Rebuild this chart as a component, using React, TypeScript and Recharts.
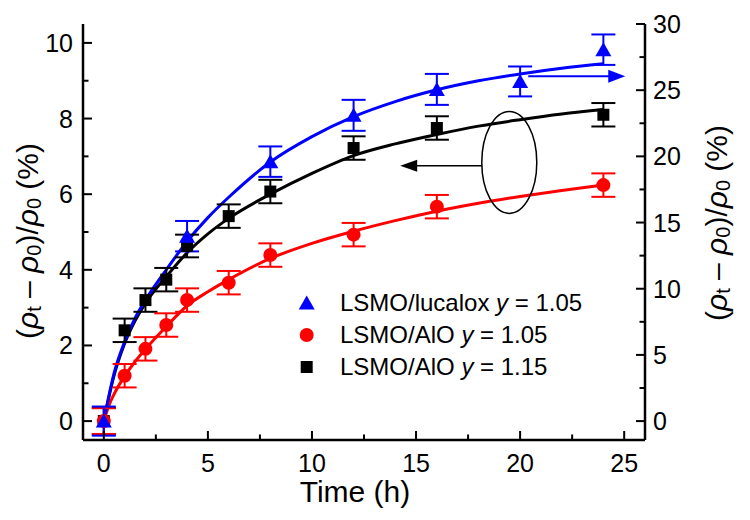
import {
  ComposedChart,
  ErrorBar,
  Legend,
  Line,
  ReferenceDot,
  ReferenceLine,
  Scatter,
  XAxis,
  YAxis,
} from "recharts";

const font = '"Liberation Sans", Arial, Helvetica, sans-serif';

// measured points, left axis (%)
const sampleHours = [0, 1, 2, 3, 4, 6, 8, 12, 16, 24];
const alo115Values = [0, 2.4, 3.2, 3.74, 4.63, 5.42, 6.07, 7.22, 7.75, 8.1];
const alo115Errors = [0.35, 0.31, 0.31, 0.31, 0.3, 0.31, 0.31, 0.31, 0.31, 0.31];
const alo105Values = [0, 1.2, 1.91, 2.54, 3.2, 3.66, 4.39, 4.93, 5.67, 6.24];
const alo105Errors = [0.34, 0.31, 0.31, 0.31, 0.31, 0.31, 0.31, 0.31, 0.31, 0.31];

// lucalox points, right axis (%)
const lucaloxHours = [0, 4, 8, 12, 16, 20, 24];
const lucaloxValues = [0, 13.97, 19.6, 23.1, 25.06, 25.66, 28.06];
const lucaloxErrors = [1.1, 1.15, 1.15, 1.17, 1.17, 1.13, 1.15];

// fitted curves at these hours
const fitHours = [0, 0.25, 0.5, 1, 1.5, 2, 3, 4, 5, 6, 8, 10, 12, 14, 16, 18, 20, 22, 24];
const alo115Fit = [0, 0.65, 1.22, 2.05, 2.65, 3.12, 3.82, 4.45, 4.95, 5.36, 6.0, 6.55, 7.02, 7.33, 7.58, 7.8, 7.97, 8.12, 8.24];
const alo105Fit = [0, 0.42, 0.72, 1.19, 1.57, 1.9, 2.5, 3.05, 3.42, 3.74, 4.3, 4.7, 5.02, 5.3, 5.55, 5.76, 5.94, 6.1, 6.24];
const lucaloxFit = [0, 1.94, 3.66, 6.0, 7.77, 9.14, 11.43, 13.57, 15.37, 16.91, 19.57, 21.49, 23.0, 24.14, 25.03, 25.71, 26.23, 26.66, 27.0];

const timeTicks = [0, 2.5, 5, 7.5, 10, 12.5, 15, 17.5, 20, 22.5, 25];
const leftTicks = [0, 1, 2, 3, 4, 5, 6, 7, 8, 9, 10];
const rightTicks = [0, 2.5, 5, 7.5, 10, 12.5, 15, 17.5, 20, 22.5, 25, 27.5, 30];

const legendNames = ["LSMO/lucalox", "LSMO/AlO", "LSMO/AlO"];
const legendY = ["1.05", "1.05", "1.15"];
const legendColors = ["#0000ff", "#ff0000", "#000000"];

const toPoints = (hours: number[], values: number[], errors?: number[]) =>
  hours.map((t, i) => ({ t, v: values[i], err: errors ? errors[i] : 0 }));

const alo115Points = toPoints(sampleHours, alo115Values, alo115Errors);
const alo105Points = toPoints(sampleHours, alo105Values, alo105Errors);
const lucaloxPoints = toPoints(lucaloxHours, lucaloxValues, lucaloxErrors);

type TickProps = { x?: number; y?: number; payload?: { value: number } };

function BottomTick({ x = 0, y = 0, payload }: TickProps) {
  const value = payload?.value ?? 0;
  const major = value % 5 === 0;
  return (
    <g>
      <line x1={x} x2={x} y1={y} y2={y - (major ? 9 : 5.5)} stroke="#000" strokeWidth={2} />
      {major && (
        <text x={x} y={y + 32} textAnchor="middle" fontSize={25} fontFamily={font} fill="#000">
          {value}
        </text>
      )}
    </g>
  );
}

function TopTick({ x = 0, y = 0, payload }: TickProps) {
  const major = (payload?.value ?? 0) % 5 === 0;
  return <line x1={x} x2={x} y1={y} y2={y + (major ? 9 : 5.5)} stroke="#000" strokeWidth={2} />;
}

function LeftTick({ x = 0, y = 0, payload }: TickProps) {
  const value = payload?.value ?? 0;
  const major = value % 2 === 0;
  return (
    <g>
      <line x1={x} x2={x + (major ? 9 : 5.5)} y1={y} y2={y} stroke="#000" strokeWidth={2} />
      {major && (
        <text x={x - 10} y={y + 9} textAnchor="end" fontSize={25} fontFamily={font} fill="#000">
          {value}
        </text>
      )}
    </g>
  );
}

function RightTick({ x = 0, y = 0, payload }: TickProps) {
  const value = payload?.value ?? 0;
  const major = value % 5 === 0;
  return (
    <g>
      <line x1={x} x2={x - (major ? 9 : 5.5)} y1={y} y2={y} stroke="#000" strokeWidth={2} />
      {major && (
        <text x={x + 8} y={y + 9} textAnchor="start" fontSize={25} fontFamily={font} fill="#000">
          {value}
        </text>
      )}
    </g>
  );
}

function YTitle({ cx, cy }: { cx: number; cy: number }) {
  return (
    <text
      x={cx}
      y={cy}
      transform={`rotate(-90 ${cx} ${cy})`}
      textAnchor="middle"
      dominantBaseline="central"
      fontSize={30}
      fontFamily={font}
      fill="#000"
    >
      (<tspan fontStyle="italic">ρ</tspan>
      <tspan fontSize={20} dy={7}>t</tspan>
      <tspan dy={-7}>{" – "}</tspan>
      <tspan fontStyle="italic">ρ</tspan>
      <tspan fontSize={20} dy={7}>0</tspan>
      <tspan dy={-7}>)/</tspan>
      <tspan fontStyle="italic">ρ</tspan>
      <tspan fontSize={20} dy={7}>0</tspan>
      <tspan dy={-7}>{" (%)"}</tspan>
    </text>
  );
}

const fallbackBox = { x: 0, y: 16, width: 75, height: 416 };

function leftTitle(props: any) {
  const vb = props?.viewBox ?? fallbackBox;
  return <YTitle cx={vb.x + 19} cy={vb.y + vb.height / 2 + 9} />;
}

function rightTitle(props: any) {
  const vb = props?.viewBox ?? { x: 637, y: 16, width: 97, height: 416 };
  return <YTitle cx={vb.x + 71} cy={vb.y + vb.height / 2 - 9} />;
}

function timeTitle(props: any) {
  const vb = props?.viewBox ?? { x: 75, y: 432, width: 562, height: 72 };
  return (
    <text
      x={vb.x + vb.width / 2 - 9}
      y={vb.y + 62}
      textAnchor="middle"
      fontSize={30}
      fontFamily={font}
      fill="#000"
    >
      Time (h)
    </text>
  );
}

function Triangle({ cx = 0, cy = 0, color = "#0000ff" }: { cx?: number; cy?: number; color?: string }) {
  return (
    <polygon
      points={`${cx},${cy - 7.5} ${cx - 8},${cy + 6.5} ${cx + 8},${cy + 6.5}`}
      fill={color}
    />
  );
}

function Circle({ cx = 0, cy = 0 }: { cx?: number; cy?: number }) {
  return <circle cx={cx} cy={cy} r={7} fill="#ff0000" />;
}

function Square({ cx = 0, cy = 0 }: { cx?: number; cy?: number }) {
  return <rect x={cx - 6} y={cy - 6} width={12} height={12} fill="#000" />;
}

function LegendBox() {
  return (
    <div style={{ fontFamily: font, fontSize: 24, color: "#000" }}>
      {legendNames.map((name, i) => (
        <div key={i} style={{ display: "flex", alignItems: "center", height: 32 }}>
          <svg width={42} height={32} style={{ display: "block" }}>
            {i === 0 && <Triangle cx={8.7} cy={16} color={legendColors[0]} />}
            {i === 1 && <circle cx={8.7} cy={16} r={7} fill={legendColors[1]} />}
            {i === 2 && <rect x={2.7} y={10} width={12} height={12} fill={legendColors[2]} />}
          </svg>
          <span style={{ whiteSpace: "nowrap" }}>
            {name} <i>y</i> = {legendY[i]}
          </span>
        </div>
      ))}
    </div>
  );
}

function ArrowLeftHead(props: any) {
  const { cx = 0, cy = 0 } = props;
  return <polygon points={`${cx},${cy} ${cx + 17},${cy - 6} ${cx + 17},${cy + 6}`} fill="#000" />;
}

function ArrowRightHead(props: any) {
  const { cx = 0, cy = 0 } = props;
  return <polygon points={`${cx},${cy} ${cx - 17},${cy - 6.5} ${cx - 17},${cy + 6.5}`} fill="#0000ff" />;
}

function Ellipse(props: any) {
  const { cx = 0, cy = 0 } = props;
  return <ellipse cx={cx} cy={cy} rx={27.5} ry={51} fill="none" stroke="#000" strokeWidth={1.5} />;
}

const frame = { stroke: "#000", strokeWidth: 2.5 };

export default function App() {
  return (
    <div style={{ width: 734, height: 504 }}>
      <ComposedChart
        width={734}
        height={504}
        margin={{ top: 16, right: 0, bottom: 0, left: 0 }}
      >
        <XAxis
          dataKey="t"
          type="number"
          domain={[-1, 26]}
          ticks={timeTicks}
          interval={0}
          allowDataOverflow
          height={72}
          tickSize={0}
          tickMargin={0}
          tickLine={false}
          axisLine={frame}
          tick={<BottomTick />}
          label={timeTitle}
        />
        <XAxis
          xAxisId="top"
          orientation="top"
          type="number"
          domain={[-1, 26]}
          ticks={timeTicks}
          interval={0}
          allowDataOverflow
          height={0}
          tickSize={0}
          tickMargin={0}
          tickLine={false}
          axisLine={frame}
          tick={<TopTick />}
        />
        <YAxis
          yAxisId="left"
          dataKey="v"
          type="number"
          domain={[-0.5, 10.5]}
          ticks={leftTicks}
          interval={0}
          allowDataOverflow
          width={75}
          tickSize={0}
          tickMargin={0}
          tickLine={false}
          axisLine={frame}
          tick={<LeftTick />}
          label={leftTitle}
        />
        <YAxis
          yAxisId="right"
          orientation="right"
          dataKey="v"
          type="number"
          domain={[-10 / 7, 30]}
          ticks={rightTicks}
          interval={0}
          allowDataOverflow
          width={97}
          tickSize={0}
          tickMargin={0}
          tickLine={false}
          axisLine={frame}
          tick={<RightTick />}
          label={rightTitle}
        />

        <Line
          yAxisId="left"
          data={toPoints(fitHours, alo115Fit)}
          dataKey="v"
          type="monotone"
          stroke="#000"
          strokeWidth={3}
          dot={false}
          activeDot={false}
          isAnimationActive={false}
        />
        <Line
          yAxisId="left"
          data={toPoints(fitHours, alo105Fit)}
          dataKey="v"
          type="monotone"
          stroke="#ff0000"
          strokeWidth={3}
          dot={false}
          activeDot={false}
          isAnimationActive={false}
        />
        <Line
          yAxisId="right"
          data={toPoints(fitHours, lucaloxFit)}
          dataKey="v"
          type="monotone"
          stroke="#0000ff"
          strokeWidth={3}
          dot={false}
          activeDot={false}
          isAnimationActive={false}
        />

        <Scatter
          yAxisId="left"
          data={alo115Points}
          dataKey="v"
          shape={(p: any) => <Square cx={p.cx} cy={p.cy} />}
          isAnimationActive={false}
        >
          <ErrorBar dataKey="err" direction="y" width={12} stroke="#000" strokeWidth={2} />
        </Scatter>
        <Scatter
          yAxisId="left"
          data={alo105Points}
          dataKey="v"
          shape={(p: any) => <Circle cx={p.cx} cy={p.cy} />}
          isAnimationActive={false}
        >
          <ErrorBar dataKey="err" direction="y" width={12} stroke="#ff0000" strokeWidth={2} />
        </Scatter>
        <Scatter
          yAxisId="right"
          data={lucaloxPoints}
          dataKey="v"
          shape={(p: any) => <Triangle cx={p.cx} cy={p.cy} />}
          isAnimationActive={false}
        >
          <ErrorBar dataKey="err" direction="y" width={12} stroke="#0000ff" strokeWidth={2} />
        </Scatter>

        <ReferenceLine
          yAxisId="left"
          segment={[
            { x: 18.17, y: 6.75 },
            { x: 14.8, y: 6.75 },
          ]}
          stroke="#000"
          strokeWidth={1.5}
        />
        <ReferenceDot yAxisId="left" x={14.24} y={6.75} r={1} shape={ArrowLeftHead} />
        <ReferenceDot yAxisId="left" x={19.48} y={6.84} r={1} shape={Ellipse} />
        <ReferenceLine
          yAxisId="right"
          segment={[
            { x: 20.39, y: 26.05 },
            { x: 24.5, y: 26.05 },
          ]}
          stroke="#0000ff"
          strokeWidth={2}
        />
        <ReferenceDot yAxisId="right" x={25.05} y={26.05} r={1} shape={ArrowRightHead} />

        <Legend
          layout="vertical"
          align="center"
          verticalAlign="middle"
          content={() => <LegendBox />}
          wrapperStyle={{ left: 290, top: 279, width: 320, height: 96 }}
        />
      </ComposedChart>
    </div>
  );
}
